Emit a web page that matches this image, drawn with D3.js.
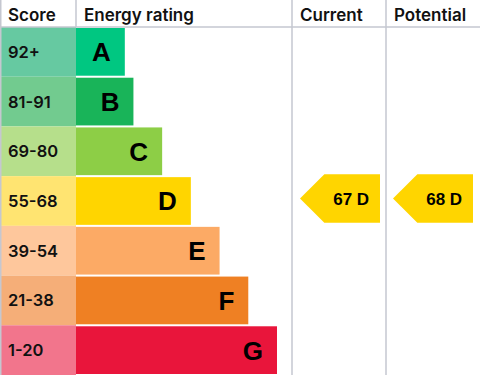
<!DOCTYPE html>
<html>
<head>
<meta charset="utf-8">
<script src="https://cdn.jsdelivr.net/npm/d3@7"></script>
<style>
  body { margin: 0; background: #fff; }
  svg { display: block; }
</style>
</head>
<body>
<div id="chart"></div>
<script>
// rating bands, top to bottom
var letters = ["A", "B", "C", "D", "E", "F", "G"];
var scoreLabels = ["92+", "81-91", "69-80", "55-68", "39-54", "21-38", "1-20"];
var minScore = [92, 81, 69, 55, 39, 21, 1];
var barUnits = [1.7, 2, 3, 4, 5, 6, 7];
var barColors = ["#00c781", "#19b459", "#8dce46", "#ffd500", "#fcaa65", "#ef8023", "#e9153b"];
var cellColors = ["#66c9a1", "#72cb8f", "#b6df8b", "#ffe471", "#fec79c", "#f5ae78", "#f2758c"];
var headers = ["Score", "Energy rating", "Current", "Potential"];
var current = 67, potential = 68;

var width = 480, height = 375, headH = 27;
var colX = [0, 76, 292, 386, 480];

var svg = d3.select("#chart")
    .append("svg")
    .attr("width", width)
    .attr("height", height);

var y = d3.scaleBand()
    .domain(letters)
    .range([headH, height]);

var x = d3.scaleLinear()
    .domain([0, 7])
    .range([0, 201]);

function bandOf(score) {
    for (var i = 0; i < minScore.length; i++) {
        if (score >= minScore[i]) return letters[i];
    }
    return "G";
}

// score cells
svg.append("g").selectAll("rect")
    .data(letters)
    .enter()
    .append("rect")
    .attr("x", colX[0])
    .attr("y", function(d) { return y(d); })
    .attr("width", colX[1] - colX[0])
    .attr("height", y.bandwidth())
    .style("fill", function(d, i) { return cellColors[i]; });

svg.append("g").selectAll("text")
    .data(scoreLabels)
    .enter()
    .append("text")
    .attr("x", 8)
    .attr("y", function(d, i) { return y(letters[i]) + y.bandwidth() / 2; })
    .attr("dy", "0.36em")
    .style("font-family", "Inter, 'Noto Sans', sans-serif")
    .style("font-weight", 600)
    .style("font-size", "16.5px")
    .style("fill", "#111")
    .text(function(d) { return d; });

// energy rating bars
svg.append("g").selectAll("rect")
    .data(letters)
    .enter()
    .append("rect")
    .attr("x", colX[1])
    .attr("y", function(d) { return y(d) + 1; })
    .attr("width", function(d, i) { return x(barUnits[i]); })
    .attr("height", y.bandwidth() - 2)
    .style("fill", function(d, i) { return barColors[i]; });

svg.append("g").selectAll("text")
    .data(letters)
    .enter()
    .append("text")
    .attr("x", function(d, i) { return colX[1] + x(barUnits[i]) - 14; })
    .attr("y", function(d) { return y(d) + y.bandwidth() / 2; })
    .attr("dy", "0.36em")
    .attr("text-anchor", "end")
    .style("font-family", "'Liberation Sans', Arial, sans-serif")
    .style("font-weight", "bold")
    .style("font-size", "26px")
    .style("fill", "#000")
    .text(function(d) { return d; });

// grid lines
var grid = svg.append("g")
    .style("stroke", "#c5c7d0")
    .style("stroke-width", 1.5);
grid.append("line")
    .attr("x1", 0).attr("x2", width)
    .attr("y1", headH).attr("y2", headH);
grid.append("line")
    .attr("x1", 0.75).attr("x2", 0.75)
    .attr("y1", 0).attr("y2", height);
grid.append("line")
    .attr("x1", colX[1]).attr("x2", colX[1])
    .attr("y1", 0).attr("y2", headH);
[colX[2], colX[3]].forEach(function(cx) {
    grid.append("line")
        .attr("x1", cx).attr("x2", cx)
        .attr("y1", 0).attr("y2", height);
});

// headers
svg.append("g").selectAll("text")
    .data(headers)
    .enter()
    .append("text")
    .attr("x", function(d, i) { return colX[i] + 8; })
    .attr("y", headH / 2 + 1)
    .attr("dy", "0.36em")
    .style("font-family", "Inter, 'Noto Sans', sans-serif")
    .style("font-weight", 600)
    .style("font-size", "17px")
    .style("fill", "#111")
    .text(function(d) { return d; });

// current / potential arrows
function arrow(score, left, right) {
    var band = bandOf(score);
    var i = letters.indexOf(band);
    var top = y(band) - 2, bot = y(band) + y.bandwidth() - 3;
    var mid = (top + bot) / 2, tipW = (bot - top) / 2;
    svg.append("path")
        .attr("d", "M" + left + "," + mid +
            "L" + (left + tipW) + "," + top +
            "L" + right + "," + top +
            "L" + right + "," + bot +
            "L" + (left + tipW) + "," + bot + "Z")
        .style("fill", barColors[i]);
    svg.append("text")
        .attr("x", (left + tipW + right) / 2 - 1)
        .attr("y", mid)
        .attr("dy", "0.36em")
        .attr("text-anchor", "middle")
        .style("font-family", "'Liberation Sans', Arial, sans-serif")
        .style("font-weight", "bold")
        .style("font-size", "17px")
        .style("fill", "#000")
        .text(score + " " + band);
}
arrow(current, colX[2] + 8, colX[3] - 6);
arrow(potential, colX[3] + 7, width - 7);
</script>
</body>
</html>
